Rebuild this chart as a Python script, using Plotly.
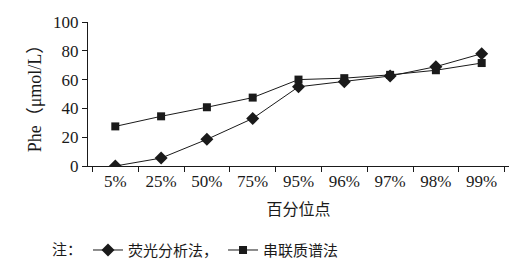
import plotly.graph_objects as go

categories = ["5%", "25%", "50%", "75%", "95%", "96%", "97%", "98%", "99%"]
fluor = [0, 5.5, 18.5, 33, 55, 58.5, 62.5, 69, 78]
msms = [27.5, 34.5, 40.8, 47.5, 60, 61, 63.3, 66.5, 71.5]
yticks = [0, 20, 40, 60, 80, 100]

FONT = "Liberation Serif, Noto Sans CJK SC, serif"
INK = "#1a1a1a"

fig = go.Figure()
fig.add_trace(go.Scatter(x=categories, y=fluor, mode="lines+markers", name="荧光分析法，",
                         line=dict(color=INK, width=1),
                         marker=dict(symbol="diamond", size=10, color=INK)))
fig.add_trace(go.Scatter(x=categories, y=msms, mode="lines+markers", name="串联质谱法",
                         line=dict(color=INK, width=1),
                         marker=dict(symbol="square", size=8, color=INK)))

fig.update_layout(
    width=515, height=270,
    margin=dict(l=88, r=6, t=22, b=104, autoexpand=False),
    paper_bgcolor="white", plot_bgcolor="white",
    font=dict(family=FONT, size=16, color=INK),
    showlegend=True,
    legend=dict(orientation="h", x=0.0, xref="paper", y=-0.585, yanchor="middle",
                xanchor="left", font=dict(family=FONT, size=15, color=INK),
                itemwidth=30, tracegroupgap=0, bgcolor="rgba(0,0,0,0)"),
    annotations=[dict(text="注：", x=-0.01, xref="paper", y=-0.585, yref="paper",
                      xanchor="right", yanchor="middle", showarrow=False,
                      font=dict(family=FONT, size=15, color=INK))],
)
fig.update_xaxes(type="category", showline=True, linecolor=INK, linewidth=1,
                 ticks="outside", tickson="boundaries", ticklen=5, tickcolor=INK,
                 showgrid=False, zeroline=False, automargin=False,
                 tickfont=dict(size=17),
                 title=dict(text="百分位点", font=dict(family=FONT, size=16), standoff=13))
fig.update_yaxes(range=[0, 100], tickvals=yticks, showline=True, linecolor=INK, linewidth=1,
                 ticks="outside", ticklen=5, tickcolor=INK, showgrid=False, zeroline=False,
                 automargin=False, tickfont=dict(size=17),
                 title=dict(text="Phe（μmol/L）", font=dict(family=FONT, size=18), standoff=6))

fig.write_html("out.html")
